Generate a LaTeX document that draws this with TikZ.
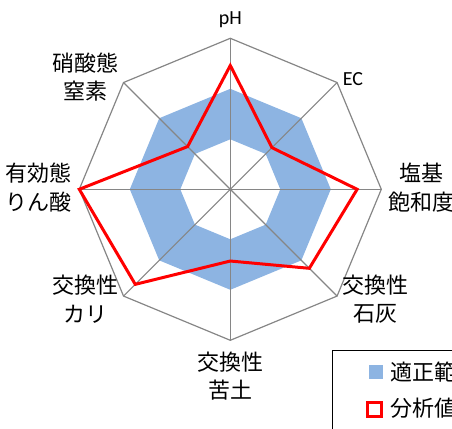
\documentclass[tikz,border=0pt]{standalone}
\usepackage{fontspec}
\setmainfont{Carlito}
\newfontfamily\jpfont{Noto Sans CJK JP}
\definecolor{rangeblue}{RGB}{141,180,226}
\definecolor{gridgray}{RGB}{134,134,134}
\definecolor{datared}{RGB}{255,0,0}

\begin{document}
\begin{tikzpicture}[x=1pt,y=1pt,
	axislabel/.style={align=center,inner sep=0pt,font=\jpfont\fontsize{22}{28.5}\selectfont},
	gridline/.style={draw=gridgray,line width=1.2pt},
	dataline/.style={draw=datared,line width=3pt,line join=miter}]
\useasboundingbox (-230.3,-238.7) rectangle (221.7,189.3);
\foreach \i in {1,...,8} {
	\coordinate (o\i) at ({90-45*(\i-1)}:151);
	\coordinate (b\i) at ({90-45*(\i-1)}:100.5);
	\coordinate (w\i) at ({90-45*(\i-1)}:50);
}
% range band
\fill[rangeblue,even odd rule] (b1) -- (b2) -- (b3) -- (b4) -- (b5) -- (b6) -- (b7) -- (b8) -- cycle
	(w1) -- (w2) -- (w3) -- (w4) -- (w5) -- (w6) -- (w7) -- (w8) -- cycle;
\coordinate (c) at (0,0);
\foreach \i in {1,...,8} \draw[gridline] (c) -- (o\i);
\draw[gridline,line join=miter] (o1) -- (o2) -- (o3) -- (o4) -- (o5) -- (o6) -- (o7) -- (o8) -- cycle;
% measured values
\foreach \i/\r in {1/0.82,2/0.39,3/0.84,4/0.74,5/0.475,6/0.89,7/1.0,8/0.40}
	\coordinate (d\i) at ({90-45*(\i-1)}:{151*\r});
\draw[dataline] (d1) -- (d2) -- (d3) -- (d4) -- (d5) -- (d6) -- (d7) -- (d8) -- cycle;
% axis labels
\node[inner sep=0pt,font=\fontsize{20}{24}\selectfont] (ph) at (0,170) {pH};
\node[inner sep=0pt,font=\fontsize{20}{24}\selectfont] (ec) at (122.7,110.3) {EC};
\node[axislabel] (base) at (190.7,1.8) {塩基\\飽和度};
\node[axislabel] (ca) at (144.7,-109.7) {交換性\\石灰};
\node[axislabel] (mg) at (0,-186.7) {交換性\\苦土};
\node[axislabel] (k) at (-144.3,-109.7) {交換性\\カリ};
\node[axislabel] (p) at (-191.3,1.8) {有効態\\りん酸};
\node[axislabel] (no3) at (-144.3,112.3) {硝酸態\\窒素};
% legend
\draw[line width=1pt] (102.4,-300) -- (102.4,-161.4) -- (300,-161.4);
\node[fill=rangeblue,minimum size=13.5pt,inner sep=0pt] (keyrange) at (145.6,-182.7) {};
\node[draw=datared,line width=3pt,minimum size=13.5pt,inner sep=0pt] (keydata) at (144.4,-220.2) {};
\node[axislabel,anchor=west] (txtrange) at (159.7,-182.7) {適正範囲};
\node[axislabel,anchor=west] (txtdata) at (159.7,-218.7) {分析値};
\end{tikzpicture}
\end{document}
